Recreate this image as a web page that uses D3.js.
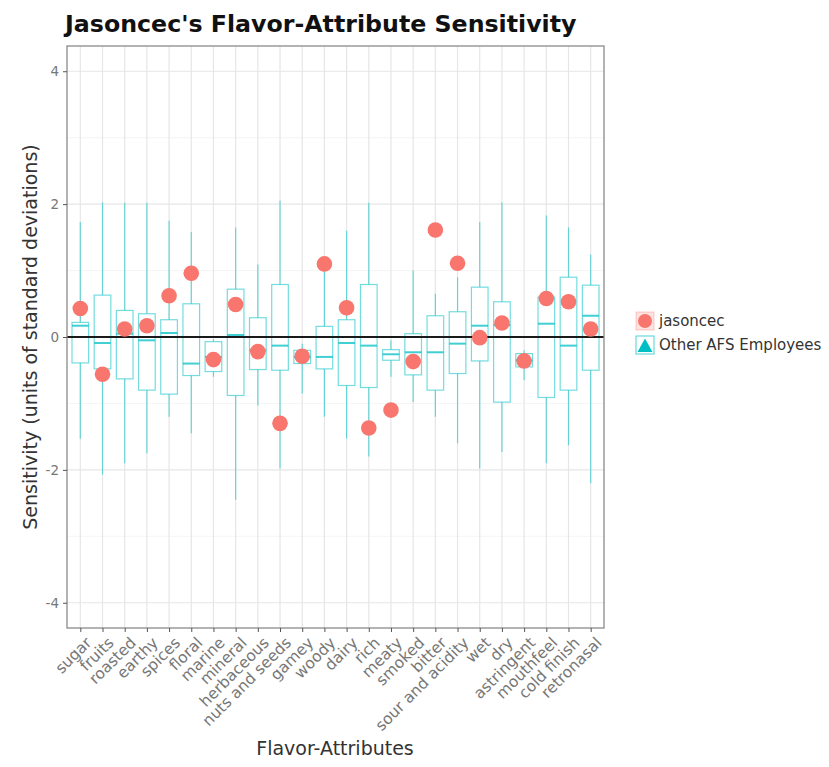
<!DOCTYPE html>
<html>
<head>
<meta charset="utf-8">
<script src="https://cdn.jsdelivr.net/npm/d3@7"></script>
<style>
  body { margin: 0; background: #fff; }
  svg { display: block; font-family: "DejaVu Sans", sans-serif; }
</style>
</head>
<body>
<svg id="chart" width="829" height="767"></svg>
<script>
// Flavor attributes along the x axis
const categories = ["sugar", "fruits", "roasted", "earthy", "spices", "floral", "marine", "mineral",
  "herbaceous", "nuts and seeds", "gamey", "woody", "dairy", "rich", "meaty", "smoked", "bitter",
  "sour and acidity", "wet", "dry", "astringent", "mouthfeel", "cold finish", "retronasal"];

// Box-plot summaries for the other AFS employees (standard-deviation units)
const whiskerLow  = [-1.53, -2.07, -1.90, -1.75, -1.20, -1.45, -0.60, -2.45, -1.03, -1.98, -0.85, -1.20,
  -1.53, -1.80, -0.60, -0.98, -1.20, -1.60, -1.98, -1.73, -0.65, -1.90, -1.63, -2.20];
const q1          = [-0.39, -0.48, -0.63, -0.80, -0.86, -0.58, -0.52, -0.88, -0.49, -0.50, -0.40, -0.48,
  -0.73, -0.76, -0.35, -0.57, -0.80, -0.55, -0.36, -0.98, -0.45, -0.91, -0.80, -0.50];
const median      = [0.17, -0.09, 0.05, -0.05, 0.06, -0.40, -0.30, 0.03, -0.20, -0.13, -0.30, -0.30,
  -0.09, -0.13, -0.26, -0.23, -0.23, -0.10, 0.17, 0.18, -0.35, 0.20, -0.13, 0.32];
const q3          = [0.22, 0.63, 0.40, 0.35, 0.26, 0.50, -0.07, 0.72, 0.29, 0.79, -0.20, 0.16,
  0.26, 0.79, -0.19, 0.05, 0.32, 0.38, 0.75, 0.53, -0.25, 0.60, 0.90, 0.78];
const whiskerHigh = [1.73, 2.03, 2.02, 2.02, 1.75, 1.58, -0.03, 1.65, 1.09, 2.05, -0.10, 1.15,
  1.60, 2.02, -0.05, 1.00, 0.65, 0.90, 1.73, 2.03, -0.20, 1.83, 1.65, 1.24];

// Jasoncec's own sensitivity for each attribute
const jasoncec    = [0.43, -0.56, 0.12, 0.17, 0.62, 0.96, -0.34, 0.49, -0.22, -1.30, -0.29, 1.10,
  0.44, -1.37, -1.10, -0.37, 1.61, 1.11, -0.01, 0.21, -0.36, 0.58, 0.53, 0.12];

const yTicks = [-4, -2, 0, 2, 4];
const yMinorTicks = [-3, -1, 1, 3];

const seriesNames = ["jasoncec", "Other AFS Employees"];
const red = "#F8766D", teal = "#00BFC4";

const svg = d3.select("#chart");
const panel = { left: 67, right: 604, top: 46, bottom: 628 };

const x = d3.scalePoint().domain(categories).range([panel.left, panel.right]).padding(0.6);
const y = d3.scaleLinear().domain([-4.38, 4.38]).range([panel.bottom, panel.top]);
const boxW = x.step() * 0.75;

// panel background and grid
svg.append("rect").attr("x", panel.left).attr("y", panel.top)
  .attr("width", panel.right - panel.left).attr("height", panel.bottom - panel.top).attr("fill", "#fff");

const grid = svg.append("g");
grid.selectAll(".minor").data(yMinorTicks).join("line")
  .attr("x1", panel.left).attr("x2", panel.right)
  .attr("y1", d => y(d)).attr("y2", d => y(d))
  .attr("stroke", "#f2f2f2").attr("stroke-width", 0.8);
grid.selectAll(".major").data(yTicks).join("line")
  .attr("x1", panel.left).attr("x2", panel.right)
  .attr("y1", d => y(d)).attr("y2", d => y(d))
  .attr("stroke", "#e6e6e6").attr("stroke-width", 1.2);
grid.selectAll(".vmajor").data(categories).join("line")
  .attr("x1", d => x(d)).attr("x2", d => x(d))
  .attr("y1", panel.top).attr("y2", panel.bottom)
  .attr("stroke", "#e6e6e6").attr("stroke-width", 1.2);

// box plots
const rows = categories.map((c, i) => ({
  c, lo: whiskerLow[i], q1: q1[i], med: median[i], q3: q3[i], hi: whiskerHigh[i], j: jasoncec[i]
}));

const boxes = svg.append("g").selectAll("g").data(rows).join("g");
boxes.append("line")
  .attr("x1", d => x(d.c)).attr("x2", d => x(d.c))
  .attr("y1", d => y(d.hi)).attr("y2", d => y(d.q3))
  .attr("stroke", teal).attr("stroke-opacity", 0.55).attr("stroke-width", 1.2);
boxes.append("line")
  .attr("x1", d => x(d.c)).attr("x2", d => x(d.c))
  .attr("y1", d => y(d.q1)).attr("y2", d => y(d.lo))
  .attr("stroke", teal).attr("stroke-opacity", 0.55).attr("stroke-width", 1.2);
boxes.append("rect")
  .attr("x", d => x(d.c) - boxW / 2).attr("width", boxW)
  .attr("y", d => y(d.q3)).attr("height", d => y(d.q1) - y(d.q3))
  .attr("fill", "#fff").attr("stroke", teal).attr("stroke-opacity", 0.55).attr("stroke-width", 1.2);
boxes.append("line")
  .attr("x1", d => x(d.c) - boxW / 2).attr("x2", d => x(d.c) + boxW / 2)
  .attr("y1", d => y(d.med)).attr("y2", d => y(d.med))
  .attr("stroke", teal).attr("stroke-opacity", 0.75).attr("stroke-width", 2);

// zero reference line
svg.append("line")
  .attr("x1", panel.left).attr("x2", panel.right)
  .attr("y1", y(0)).attr("y2", y(0))
  .attr("stroke", "#1a1a1a").attr("stroke-width", 2);

// jasoncec points
svg.append("g").selectAll("circle").data(rows).join("circle")
  .attr("cx", d => x(d.c)).attr("cy", d => y(d.j)).attr("r", 7.8)
  .attr("fill", red);

// panel border
svg.append("rect").attr("x", panel.left).attr("y", panel.top)
  .attr("width", panel.right - panel.left).attr("height", panel.bottom - panel.top)
  .attr("fill", "none").attr("stroke", "#8a8a8a").attr("stroke-width", 1.3);

// axes
const yAxis = svg.append("g").attr("transform", `translate(${panel.left},0)`)
  .call(d3.axisLeft(y).tickValues(yTicks).tickSize(4).tickPadding(4).tickFormat(d => String(d)));
yAxis.select(".domain").remove();
yAxis.selectAll("line").attr("stroke", "#555");
yAxis.selectAll("text").attr("font-size", 13.5).attr("fill", "#777")
  .attr("font-family", "DejaVu Sans, sans-serif");

const xAxis = svg.append("g").attr("transform", `translate(0,${panel.bottom})`)
  .call(d3.axisBottom(x).tickSize(4).tickPadding(2));
xAxis.select(".domain").remove();
xAxis.selectAll("line").attr("stroke", "#555");
xAxis.selectAll("text")
  .attr("font-size", 15.5).attr("fill", "#777")
  .attr("font-family", "DejaVu Sans, sans-serif")
  .attr("text-anchor", "end")
  .attr("y", 0)
  .attr("dy", "0.7em")
  .attr("transform", "translate(4,8) rotate(-45)");

// titles
svg.append("text").attr("x", 65).attr("y", 32)
  .attr("font-size", 23.7).attr("font-weight", "bold").attr("fill", "#111")
  .text("Jasoncec's Flavor-Attribute Sensitivity");
svg.append("text")
  .attr("transform", `translate(37,${(panel.top + panel.bottom) / 2}) rotate(-90)`)
  .attr("text-anchor", "middle").attr("font-size", 19).attr("fill", "#333")
  .text("Sensitivity (units of standard deviations)");
svg.append("text").attr("x", 335).attr("y", 755)
  .attr("text-anchor", "middle").attr("font-size", 19).attr("fill", "#333")
  .text("Flavor-Attributes");

// legend
const legend = svg.append("g").attr("transform", "translate(636,312)");
const k1 = legend.append("g");
k1.append("rect").attr("width", 18).attr("height", 18).attr("fill", "#fde3e0")
  .attr("stroke", red).attr("stroke-opacity", 0.35);
k1.append("circle").attr("cx", 9).attr("cy", 9).attr("r", 7).attr("fill", red);
k1.append("text").attr("x", 23).attr("y", 14).attr("font-size", 15).attr("fill", "#333").text(seriesNames[0]);
const k2 = legend.append("g").attr("transform", "translate(0,24)");
k2.append("rect").attr("width", 18).attr("height", 18).attr("fill", "#fff")
  .attr("stroke", teal).attr("stroke-opacity", 0.7);
k2.append("path").attr("d", "M9,2.5 L16.5,16 L1.5,16 Z").attr("fill", teal);
k2.append("text").attr("x", 23).attr("y", 14).attr("font-size", 15).attr("fill", "#333").text(seriesNames[1]);
</script>
</body>
</html>
